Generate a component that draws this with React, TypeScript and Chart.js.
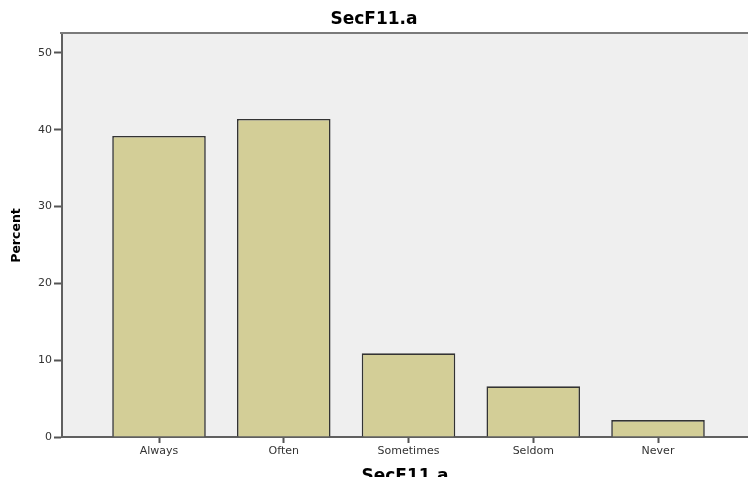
import React, { useEffect, useRef } from "react";
import { Chart, registerables } from "chart.js";

Chart.register(...registerables);

const chartTitle = "SecF11.a";
const xAxisTitle = "SecF11.a";
const yAxisTitle = "Percent";
const categories = ["Always", "Often", "Sometimes", "Seldom", "Never"];
const percents = [39.2, 41.4, 10.9, 6.6, 2.2];
const yTicks = [0, 10, 20, 30, 40, 50];

const FONT = "'DejaVu Sans', 'Liberation Sans', Arial, sans-serif";

const plotBackground = {
  id: "plotBackground",
  beforeDraw(chart: any) {
    const { ctx, chartArea } = chart;
    if (!chartArea) return;
    ctx.save();
    ctx.fillStyle = "#efefef";
    ctx.fillRect(chartArea.left, chartArea.top, chartArea.right - chartArea.left, chartArea.bottom - chartArea.top);
    ctx.restore();
  },
  afterDraw(chart: any) {
    const { ctx, chartArea } = chart;
    if (!chartArea) return;
    ctx.save();
    ctx.strokeStyle = "#7a7a7a";
    ctx.lineWidth = 2;
    ctx.beginPath();
    ctx.moveTo(chartArea.left - 2, chartArea.top - 1);
    ctx.lineTo(chartArea.right, chartArea.top - 1);
    ctx.stroke();
    ctx.restore();
  },
};

export default function App() {
  const canvasRef = useRef<HTMLCanvasElement | null>(null);

  useEffect(() => {
    document.body.style.margin = "0";
    const canvas = canvasRef.current;
    if (!canvas) return;
    const points = categories.map((_, i) => ({ x: i, y: percents[i] }));
    const chart = new Chart(canvas, {
      type: "bar",
      data: {
        datasets: [
          {
            data: points as any,
            backgroundColor: "#d3ce97",
            borderColor: "#333333",
            borderWidth: 1.6,
            barPercentage: 0.75,
            categoryPercentage: 1,
          },
        ],
      },
      plugins: [plotBackground],
      options: {
        responsive: false,
        animation: false,
        events: [],
        layout: { padding: 0 },
        plugins: {
          legend: { display: false },
          tooltip: { enabled: false },
          title: {
            display: true,
            text: chartTitle,
            color: "#000",
            font: { family: FONT, size: 17, weight: "bold", lineHeight: 1.2 },
            padding: { top: 9.3, bottom: 4.3 },
          },
        },
        scales: {
          x: {
            type: "linear",
            min: -0.7776,
            max: 4.7214,
            offset: false,
            afterBuildTicks: (axis: any) => {
              axis.ticks = categories.map((_, i) => ({ value: i }));
            },
            afterFit: (axis: any) => {
              axis.height = 40;
            },
            grid: {
              display: true,
              drawOnChartArea: false,
              drawTicks: true,
              tickLength: 6,
              tickColor: "#555",
              tickWidth: 2,
              offset: false,
            },
            border: { display: true, color: "#606060", width: 2 },
            ticks: {
              autoSkip: false,
              maxRotation: 0,
              padding: 1.5,
              color: "#333",
              font: { family: FONT, size: 11 },
              callback: (value: any) => categories[Math.round(Number(value))] ?? "",
            },
            title: {
              display: true,
              text: xAxisTitle,
              color: "#000",
              font: { family: FONT, size: 17, weight: "bold", lineHeight: 1.2 },
              padding: { top: 0, bottom: -9.5 },
            },
          },
          y: {
            type: "linear",
            min: 0,
            max: 52.47,
            afterBuildTicks: (axis: any) => {
              axis.ticks = yTicks.map((v) => ({ value: v }));
            },
            afterFit: (axis: any) => {
              axis.width = 62;
            },
            grid: {
              display: true,
              drawOnChartArea: false,
              drawTicks: true,
              tickLength: 8,
              tickColor: "#555",
              tickWidth: 2,
            },
            border: { display: true, color: "#606060", width: 2 },
            ticks: {
              padding: 2,
              color: "#333",
              font: { family: FONT, size: 11 },
            },
            title: {
              display: true,
              text: yAxisTitle,
              color: "#000",
              font: { family: FONT, size: 12.5, weight: "bold", lineHeight: 1.2 },
              padding: { top: 9, bottom: 0 },
            },
          },
        },
      } as any,
    });
    return () => chart.destroy();
  }, []);

  return (
    <div style={{ width: 748, height: 477 }}>
      <canvas ref={canvasRef} width={748} height={477} style={{ display: "block" }} />
    </div>
  );
}
